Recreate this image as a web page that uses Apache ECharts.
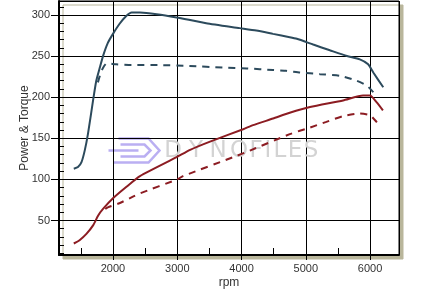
<!DOCTYPE html>
<html><head><meta charset="utf-8">
<script src="https://cdn.jsdelivr.net/npm/echarts@6/dist/echarts.min.js"></script>
<style>html,body{margin:0;padding:0;background:#fff}#c{width:425px;height:300px}</style>
</head><body><div id="c"></div>
<script>
// Data: [rpm, value]
const torqueRun1 = [[1390,113],[1455,115],[1510,121],[1560,135],[1610,155],[1690,196],[1740,220],[1795,236],[1845,250],[1920,266],[2000,277],[2100,289],[2210,299],[2290,303],[2420,303],[2680,301],[2990,297],[3450,290],[3970,284],[4230,281],[4490,277],[4750,273],[4860,271],[5115,264],[5375,257],[5640,250],[5840,246],[5970,240],[6050,230],[6205,212]];
const torqueRun2 = [[1765,218],[1795,226],[1840,235],[1900,241],[2050,240],[2290,239],[2700,239],[3190,238],[3710,236],[4080,235],[4490,233],[4700,232],[4910,230],[5220,228],[5530,226],[5790,220],[5950,214],[6050,206],[6070,202]];
const powerRun1 = [[1390,22],[1480,26],[1590,34],[1690,44],[1770,56],[1845,64],[2000,77],[2210,91],[2420,104],[2990,127],[3200,136],[3510,146],[4025,161],[4180,166],[4490,174],[4750,181],[5065,188],[5580,196],[5890,202],[6000,202],[6100,194],[6200,184]];
const powerRun2 = [[1880,64],[1920,66],[2100,71],[2310,79],[2420,83],[3000,100],[3090,104],[3870,127],[4130,135],[4750,155],[5065,163],[5320,170],[5580,177],[5840,180],[6000,178],[6100,170],[6155,164]];
const xRange = [1160, 6450];
const yRange = [8, 317];
const xLabelStep = 1000;
const yLabelStep = 50;
const watermark = 'DYNOFILES';

const chart = echarts.init(document.getElementById('c'), null, {renderer:'canvas'});
const blue = '#2c4a5c', red = '#8c1c22';
const font = 'Liberation Sans';
function line(name, data, color, dashed){
  return {name, type:'line', data, xAxisIndex:0, yAxisIndex:0, showSymbol:false, smooth:0.2,
    lineStyle:{color, width:2, type: dashed ? [7,6] : 'solid'}, z:5, animation:false};
}
const letterX = [173,196,218,239,256,268,280,295,311];
const letters = watermark.split('').map((ch, i) => ({
  type:'text', x:letterX[i], y:140, z:1,
  style:{text:ch, fill:'#d3d3d3', font:'23px "DejaVu Sans"', textAlign:'center', textVerticalAlign:'top'}
}));
chart.setOption({
  animation:false,
  grid:{left:59, right:26, top:1, bottom:45, show:true, backgroundColor:'#fff', borderColor:'#000', borderWidth:1,
        shadowColor:'#b9b69b', shadowOffsetX:4, shadowOffsetY:4, shadowBlur:0},
  xAxis:[
    {type:'value', min:xRange[0], max:xRange[1], splitNumber:5,
     name:'rpm', nameLocation:'middle', nameGap:22, nameMoveOverlap:false, nameTextStyle:{color:'#333', fontFamily:font, fontSize:12},
     axisLine:{show:true, lineStyle:{color:'#000', width:2}},
     axisTick:{show:true, length:5, lineStyle:{color:'#000'}},
     axisLabel:{color:'#333', fontFamily:font, fontSize:11, margin:8, showMinLabel:false, showMaxLabel:false,
       formatter:v => (v % xLabelStep === 0 ? String(v) : '')},
     splitLine:{show:true, lineStyle:{color:'#000', width:1}}},
    {type:'value', min:xRange[0], max:xRange[1], splitNumber:10, position:'bottom',
     axisLine:{show:false}, axisLabel:{show:false}, splitLine:{show:false},
     axisTick:{show:true, inside:true, length:7, lineStyle:{color:'#000'}}}
  ],
  yAxis:[
    {type:'value', min:yRange[0], max:yRange[1], splitNumber:6,
     name:'Power & Torque', nameLocation:'middle', nameGap:28, nameMoveOverlap:false, nameTextStyle:{color:'#333', fontFamily:font, fontSize:12},
     axisLine:{show:true, lineStyle:{color:'#000', width:2}},
     axisTick:{show:true, length:8, lineStyle:{color:'#000'}},
     axisLabel:{color:'#333', fontFamily:font, fontSize:11, margin:9, showMinLabel:false, showMaxLabel:false,
       formatter:v => (v % yLabelStep === 0 ? String(v) : '')},
     splitLine:{show:true, lineStyle:{color:'#000', width:1}}},
    {type:'value', min:yRange[0], max:yRange[1], splitNumber:31, position:'left',
     axisLine:{show:false}, axisLabel:{show:false}, splitLine:{show:false},
     axisTick:{show:true, inside:true, length:5, lineStyle:{color:'#000'}}}
  ],
  graphic:[
    {type:'group', left:106, top:136, z:1, children:[
      {type:'polyline', shape:{points:[[10,1],[40,1],[51,13],[40,25],[5,25]]}, style:{stroke:'#baaff2', lineWidth:2.5, fill:null}},
      {type:'polyline', shape:{points:[[12,7],[36,7],[42,13],[36,19],[12,19]]}, style:{stroke:'#baaff2', lineWidth:2.5, fill:null}},
      {type:'line', shape:{x1:0,y1:13,x2:30,y2:13}, style:{stroke:'#baaff2', lineWidth:2.5}}
    ]}
  ].concat(letters),
  series:[
    line('Torque run 1', torqueRun1, blue, false),
    line('Torque run 2', torqueRun2, blue, true),
    line('Power run 1', powerRun1, red, false),
    line('Power run 2', powerRun2, red, true)
  ]
});
</script></body></html>
